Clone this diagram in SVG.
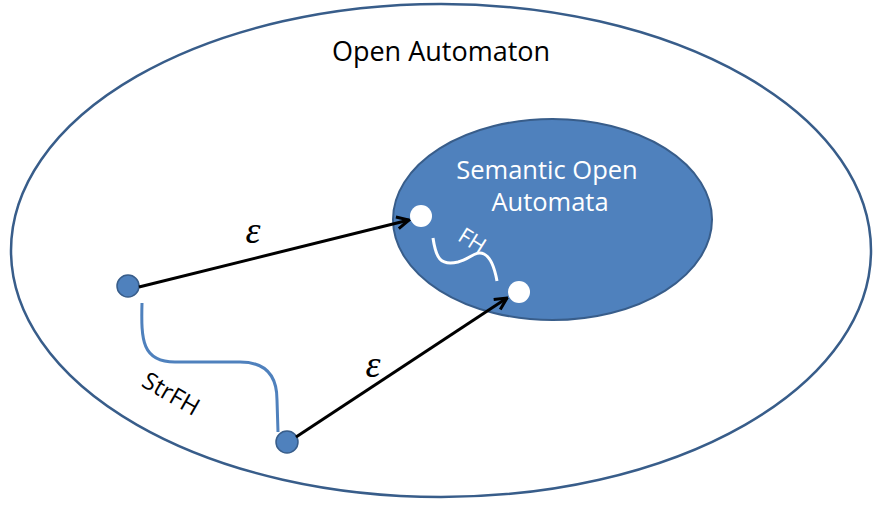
<svg xmlns="http://www.w3.org/2000/svg" width="881" height="505" viewBox="0 0 881 505">
<style>
.t{font-family:"Open Sans","Lato","Liberation Sans",sans-serif;}
.eps{font-family:"Liberation Serif","DejaVu Serif",serif;font-style:italic;font-size:38px;fill:#000;text-anchor:middle}
.bdot{fill:#4F81BD;stroke:#385D8A;stroke-width:1.5}
.wdot{fill:#ffffff;stroke:none}
.arr{stroke:#000;stroke-width:3;fill:none;marker-end:url(#ah)}
</style>
<defs>
<marker id="ah" viewBox="0 0 10 10" refX="9" refY="5" markerWidth="5" markerHeight="5" orient="auto" markerUnits="strokeWidth">
<path d="M1,1 L9,5 L1,9" fill="none" stroke="#000" stroke-width="2"/>
</marker>
</defs>
<rect width="881" height="505" fill="#fff"/>
<g id="open-automaton">
<ellipse cx="441" cy="250.5" rx="430" ry="246.5" fill="#fff" stroke="#385D8A" stroke-width="2.5"/>
<text class="t" x="441" y="61" font-size="27" text-anchor="middle" fill="#000">Open Automaton</text>
</g>
<g id="semantic-open-automata">
<ellipse cx="552.5" cy="219.5" rx="159.5" ry="100.5" fill="#4F81BD" stroke="#385D8A" stroke-width="2"/>
<text class="t" x="547" y="179" font-size="25.5" text-anchor="middle" fill="#fff">Semantic Open</text>
<text class="t" x="550" y="211" font-size="25.5" text-anchor="middle" fill="#fff">Automata</text>
</g>
<g id="node-a"><circle class="wdot" cx="421" cy="216" r="11"/></g>
<g id="node-b"><circle class="wdot" cx="519" cy="292" r="11"/></g>
<g id="node-c"><circle class="bdot" cx="128" cy="286" r="11"/></g>
<g id="node-d"><circle class="bdot" cx="287" cy="442" r="11"/></g>
<g id="connectors">
<line class="arr" x1="139" y1="287" x2="409" y2="220"/>
<line class="arr" x1="296" y1="437" x2="507" y2="298"/>
<path d="M142,303 C141,340 142,362 175,362 L240,362 C268,362 277,378 277,400 L278,432" fill="none" stroke="#4F81BD" stroke-width="3"/>
<path d="M433,238 C436,258 440,266 458,262 C470,259 476,250 484,254 C492,258 495,270 497,281" fill="none" stroke="#fff" stroke-width="3"/>
<text class="eps" x="253" y="243">ε</text>
<text class="eps" x="373" y="377">ε</text>
<text class="t" x="171" y="402" font-size="24" text-anchor="middle" fill="#000" transform="rotate(30 171 394)">StrFH</text>
<text class="t" x="472" y="248" font-size="22" text-anchor="middle" fill="#fff" transform="rotate(32 472 241)">FH</text>
</g>
</svg>
